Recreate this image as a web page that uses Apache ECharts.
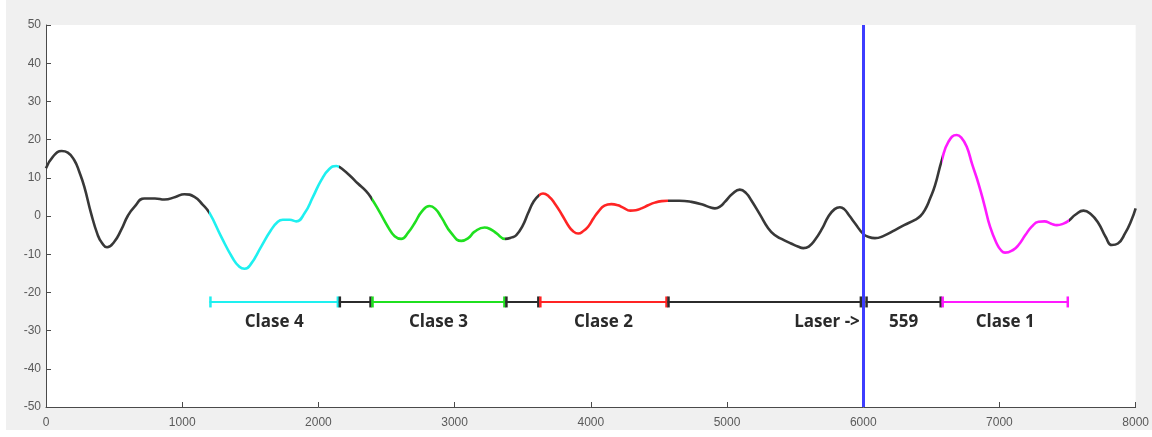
<!DOCTYPE html>
<html>
<head>
<meta charset="utf-8">
<script src="https://cdn.jsdelivr.net/npm/echarts@6/dist/echarts.min.js"></script>
<style>
  html, body { margin: 0; padding: 0; background: #ffffff; }
  #wrap { position: absolute; left: 6px; top: 0; width: 1146px; height: 430px; background: #f0f0f0; }
  #chart { width: 1146px; height: 430px; }
</style>
</head>
<body>
<div id="wrap"><div id="chart"></div></div>
<script>
// ---- Signal (x, y) ----
var xs = [0, 50, 115, 160, 208, 245, 281, 331, 380, 410, 448, 500, 551, 600, 649, 722, 800, 870, 950, 1016, 1090, 1150, 1200,
  1286, 1370, 1420, 1457, 1500, 1580, 1650, 1702, 1739, 1790, 1837, 1898, 1960, 2021, 2080, 2131, 2150, 2168, 2230, 2290,
  2350, 2390, 2450, 2510, 2560, 2608, 2660, 2706, 2760, 2816, 2860, 2902, 2976, 3049, 3100, 3147, 3220, 3270, 3306, 3373,
  3420, 3453, 3500, 3539, 3580, 3622, 3649, 3690, 3735, 3790, 3833, 3870, 3907, 3950, 3980, 4020, 4054, 4100, 4151, 4200,
  4237, 4290, 4330, 4372, 4420, 4470, 4520, 4563, 4650, 4739, 4820, 4880, 4911, 4950, 4984, 5040, 5094, 5140, 5180, 5240,
  5302, 5350, 5400, 5470, 5520, 5560, 5600, 5645, 5700, 5743, 5790, 5829, 5860, 5900, 5939, 6000, 6040, 6086, 6150, 6233,
  6300, 6380, 6420, 6453, 6490, 6527, 6576, 6625, 6686, 6720, 6760, 6800, 6846, 6890, 6931, 6980, 7010, 7041, 7100, 7140, 7190,
  7237, 7287, 7330, 7380, 7421, 7470, 7509, 7560, 7617, 7670, 7727, 7780, 7825, 7870, 7923, 7970, 8000];
var ys = [12.5, 15.5, 17.0, 16.6, 14.6, 11.5, 7.7, 0.7, -5.0, -7.0, -8.2, -6.8, -3.7, 0.0, 2.4, 4.6, 4.6, 4.3, 5.0, 5.7, 5.0, 3.0, 0.8,
  -5.4, -11.0, -13.3, -13.8, -12.8, -8.0, -3.8, -1.5, -1.0, -1.0, -1.4, 0.7, 5.0, 9.4, 12.3, 13.1, 12.9, 12.5, 10.6, 8.5,
  6.5, 4.6, 1.0, -2.8, -5.3, -6.0, -4.3, -1.9, 1.2, 2.6, 1.8, -0.3, -4.5, -6.5, -5.8, -4.1, -3.0, -3.6, -4.5, -6.0,
  -5.6, -5.0, -2.5, 0.7, 3.8, 5.5, 5.9, 5.2, 3.3, 0.2, -2.4, -4.0, -4.6, -3.8, -2.8, -0.6, 1.1, 2.7, 3.1, 2.8,
  2.2, 1.4, 1.5, 2.0, 2.8, 3.5, 3.9, 4.0, 4.0, 3.7, 3.0, 2.2, 2.0, 2.5, 3.7, 5.8, 6.9, 6.0, 4.0, 0.5,
  -3.2, -5.0, -6.0, -7.2, -8.0, -8.4, -8.0, -6.3, -3.2, -0.2, 1.8, 2.3, 1.8, 0.0, -1.9, -4.7, -5.5, -5.8, -5.2, -3.7,
  -2.4, -1.0, 0.0, 1.6, 4.5, 8.0, 14.5, 19.4, 21.2, 20.5, 18.1, 13.5, 8.5, 2.8, -2.8, -7.2, -8.9, -9.6, -8.9, -7.6, -5.0,
  -2.8, -1.5, -1.4, -2.0, -2.4, -2.0, -1.2, 0.4, 1.4, 0.5, -1.9, -5.5, -7.6, -7.2, -4.5, -1.0, 2.0];

// ---- Interval bars (start, end) at y = barLevel ----
var segStarts = [1200, 2150, 2390, 3373, 3622, 4563, 6017, 6576];
var segEnds   = [2150, 2390, 3373, 3622, 4563, 5990, 6576, 7509];
var segColors = ['#1ef0f0', '#2b2b2b', '#1fe01f', '#2b2b2b', '#ff2424', '#2b2b2b', '#2b2b2b', '#ff1aff'];
var segLabels = ['Clase 4', '', 'Clase 3', '', 'Clase 2', '', '559', 'Clase 1'];
var barLevel = -22.5;
var labelLevel = -27.7;

// ---- Coloured class ranges on the signal ----
var classStarts = [1200, 2390, 3622, 6576];
var classEnds   = [2150, 3373, 4563, 7509];
var classColors = ['#1ef0f0', '#1fe01f', '#ff2424', '#ff1aff'];

// ---- Extra annotation ----
var noteTexts = ['Laser ->'];
var noteXs = [5975];
var laserX = 6000;

// ---- Axis ticks ----
var xMin = 0, xMax = 8000, xStep = 1000;
var yMin = -50, yMax = 50, yStep = 10;

var curve = xs.map(function (x, i) { return [x, ys[i]]; });
var segData = segStarts.map(function (s, i) { return [s, segEnds[i], barLevel, i]; });
var noteData = noteXs.map(function (x, i) { return [x, labelLevel, i]; });

var chart = echarts.init(document.getElementById('chart'), null, { renderer: 'canvas' });
var labelFont = 'bold 17px "Open Sans", "Liberation Sans", sans-serif';
var axisColor = '#4a4a4a';

chart.setOption({
  backgroundColor: 'transparent',
  animation: false,
  grid: { left: 40, right: 13, top: 25, bottom: 23, show: true, backgroundColor: '#ffffff', borderWidth: 0 },
  xAxis: {
    type: 'value', min: xMin, max: xMax, interval: xStep,
    axisLine: { show: true, onZero: false, lineStyle: { color: axisColor, width: 1 } },
    axisTick: { show: true, inside: true, length: 5, lineStyle: { color: axisColor } },
    splitLine: { show: false },
    axisLabel: { color: '#5a5a5a', fontSize: 12, fontFamily: 'Liberation Sans, Arial, sans-serif', margin: 10,
      formatter: function (v) { return String(v); } }
  },
  yAxis: {
    type: 'value', min: yMin, max: yMax, interval: yStep,
    axisLine: { show: true, onZero: false, lineStyle: { color: axisColor, width: 1 } },
    axisTick: { show: true, inside: true, length: 5, lineStyle: { color: axisColor } },
    splitLine: { show: false },
    axisLabel: { color: '#5a5a5a', fontSize: 12, fontFamily: 'Liberation Sans, Arial, sans-serif', margin: 5 }
  },
  visualMap: {
    type: 'piecewise', show: false, dimension: 0, seriesIndex: 0,
    pieces: classStarts.map(function (s, i) { return { gte: s, lte: classEnds[i], color: classColors[i] }; }),
    outOfRange: { color: '#383838' }
  },
  series: [
    {
      type: 'line', data: curve, smooth: 0.5, showSymbol: false, symbol: 'none',
      lineStyle: { width: 2.6 }, z: 3
    },
    {
      type: 'custom', data: segData, z: 4,
      encode: { x: [0, 1], y: 2 },
      renderItem: function (params, api) {
        var a = api.coord([api.value(0), api.value(2)]);
        var b = api.coord([api.value(1), api.value(2)]);
        var idx = api.value(3);
        var col = segColors[idx];
        var m = api.coord([(api.value(0) + api.value(1)) / 2, labelLevel]);
        var h = 5.5;
        var children = [
          { type: 'line', shape: { x1: a[0], y1: a[1], x2: b[0], y2: b[1] }, style: { stroke: col, lineWidth: 2 } },
          { type: 'line', shape: { x1: a[0] + 1, y1: a[1] - h, x2: a[0] + 1, y2: a[1] + h }, style: { stroke: col, lineWidth: 2.5 } },
          { type: 'line', shape: { x1: b[0] - 1, y1: b[1] - h, x2: b[0] - 1, y2: b[1] + h }, style: { stroke: col, lineWidth: 2.5 } }
        ];
        if (segLabels[idx]) {
          children.push({ type: 'text', x: m[0], y: m[1], style: { text: segLabels[idx], font: labelFont, fill: '#2a2a2a', align: 'center', verticalAlign: 'middle' } });
        }
        return { type: 'group', children: children };
      }
    },
    {
      type: 'custom', data: noteData, z: 4,
      encode: { x: 0, y: 1 },
      renderItem: function (params, api) {
        var p = api.coord([api.value(0), api.value(1)]);
        return { type: 'text', x: p[0], y: p[1], style: { text: noteTexts[api.value(2)], font: labelFont, fill: '#2a2a2a', align: 'right', verticalAlign: 'middle' } };
      },
      markLine: {
        silent: true, symbol: 'none', animation: false, z: 10,
        label: { show: false },
        lineStyle: { color: '#3d3dff', width: 3, type: 'solid' },
        data: [{ xAxis: laserX }]
      }
    }
  ]
});
</script>
</body>
</html>
